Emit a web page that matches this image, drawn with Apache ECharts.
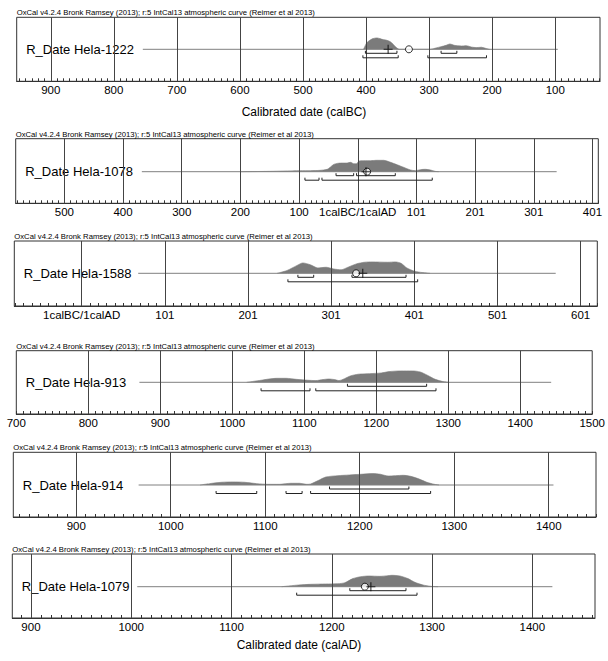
<!DOCTYPE html>
<html><head><meta charset="utf-8">
<script src="https://cdn.jsdelivr.net/npm/echarts@6/dist/echarts.min.js"></script>
<style>html,body{margin:0;padding:0;background:#fff}#c{width:608px;height:661px}</style>
</head><body><div id="c"></div>
<script>
const HEADER = 'OxCal v4.2.4 Bronk Ramsey (2013); r:5 IntCal13 atmospheric curve (Reimer et al 2013)';

// ---- Panel 1: Hela-1222 (cal BC axis) ----
const p1Name = 'R_Date Hela-1222';
const p1Ticks = [900, 800, 700, 600, 500, 400, 300, 200, 100];
const p1Line = [754, 96];
const p1Years = [404, 399, 394, 389, 383, 378, 373, 367, 362, 357, 352, 347, 298, 289, 281, 273, 267, 260, 249, 241, 233, 225, 217, 209, 204];
const p1Prob  = [0, 0.56, 0.79, 0.94, 1.0, 0.94, 0.85, 0.79, 0.68, 0.44, 0.15, 0, 0, 0.12, 0.23, 0.35, 0.47, 0.35, 0.29, 0.32, 0.2, 0.15, 0.18, 0.06, 0];
const p1R68 = [[401, 351], [281, 256]];
const p1R95 = [[405, 349], [302, 209]];
const p1Mean = [332];
const p1Median = [365];

// ---- Panel 2: Hela-1078 (BC negative, AD positive) ----
const p2Name = 'R_Date Hela-1078';
const p2Ticks = [-500, -400, -300, -200, -100, 0, 100, 200, 300, 400];
const p2Line = [-368, 339];
const p2Years = [-200, -150, -126, -98, -81, -64, -52, -47, -41, -35, -27, -18, -12, -7, -2, 2, 10, 22, 33, 44, 56, 67, 78, 90, 98, 107, 115, 124, 132, 138];
const p2Prob  = [0, 0.03, 0.06, 0.09, 0.09, 0.12, 0.21, 0.39, 0.64, 0.73, 0.76, 0.76, 0.82, 0.70, 0.70, 0.94, 0.97, 0.97, 1.0, 1.0, 0.82, 0.61, 0.39, 0.15, 0.09, 0.18, 0.21, 0.15, 0.03, 0];
const p2R68 = [[-37, -7], [-2, 64]];
const p2R95 = [[-90, -66], [-61, 127]];
const p2Mean = [16];
const p2Median = [14];

// ---- Panel 3: Hela-1588 ----
const p3Name = 'R_Date Hela-1588';
const p3Ticks = [0, 100, 200, 300, 400, 500, 600];
const p3Line = [68, 570];
const p3Years = [235, 247, 259, 266, 275, 284, 294, 303, 312, 321, 331, 340, 349, 368, 377, 384, 391, 400, 410, 419];
const p3Prob  = [0, 0.25, 0.69, 0.91, 0.75, 0.47, 0.53, 0.38, 0.31, 0.56, 0.84, 0.97, 1.0, 0.97, 1.0, 0.88, 0.47, 0.19, 0.06, 0];
const p3R68 = [[260, 279], [325, 390]];
const p3R95 = [[248, 404]];
const p3Mean = [330];
const p3Median = [338];

// ---- Panel 4: Hela-913 ----
const p4Name = 'R_Date Hela-913';
const p4Ticks = [700, 800, 900, 1000, 1100, 1200, 1300, 1400, 1500];
const p4Line = [871, 1443];
const p4Years = [1020, 1040, 1051, 1062, 1075, 1089, 1105, 1116, 1126, 1134, 1142, 1148, 1156, 1164, 1175, 1191, 1207, 1218, 1234, 1250, 1261, 1271, 1282, 1293, 1301];
const p4Prob  = [0, 0.18, 0.29, 0.35, 0.35, 0.26, 0.18, 0.15, 0.24, 0.29, 0.24, 0.15, 0.32, 0.56, 0.71, 0.76, 0.82, 0.94, 1.0, 1.0, 0.91, 0.62, 0.26, 0.06, 0];
const p4R68 = [[1160, 1270]];
const p4R95 = [[1040, 1108], [1116, 1283]];
const p4Mean = [];
const p4Median = [];

// ---- Panel 5: Hela-914 ----
const p5Name = 'R_Date Hela-914';
const p5Ticks = [900, 1000, 1100, 1200, 1300, 1400];
const p5Line = [966, 1405];
const p5Years = [1031, 1041, 1054, 1066, 1078, 1091, 1103, 1115, 1127, 1136, 1144, 1148, 1156, 1164, 1177, 1189, 1201, 1214, 1222, 1230, 1238, 1246, 1254, 1263, 1271, 1279, 1284];
const p5Prob  = [0, 0.12, 0.24, 0.27, 0.24, 0.12, 0.06, 0.06, 0.15, 0.15, 0.06, 0.09, 0.39, 0.70, 0.82, 0.88, 0.94, 1.0, 0.94, 0.79, 0.82, 0.85, 0.76, 0.52, 0.24, 0.06, 0];
const p5R68 = [[1168, 1252]];
const p5R95 = [[1048, 1091], [1122, 1139], [1148, 1275]];
const p5Mean = [];
const p5Median = [];

// ---- Panel 6: Hela-1079 ----
const p6Name = 'R_Date Hela-1079';
const p6Ticks = [900, 1000, 1100, 1200, 1300, 1400];
const p6Line = [1006, 1420];
const p6Years = [1150, 1167, 1179, 1194, 1206, 1213, 1221, 1229, 1237, 1248, 1256, 1260, 1268, 1276, 1283, 1291, 1299, 1306];
const p6Prob  = [0, 0.15, 0.21, 0.24, 0.26, 0.35, 0.71, 0.88, 0.94, 0.91, 0.97, 1.0, 0.94, 0.71, 0.38, 0.15, 0.03, 0];
const p6R68 = [[1218, 1274]];
const p6R95 = [[1165, 1285]];
const p6Mean = [1233];
const p6Median = [1239];

const axisTitleTop = 'Calibrated date (calBC)';
const axisTitleBottom = 'Calibrated date (calAD)';

// ---------- layout (positions / styles) ----------
const FONT = 'Liberation Sans, Arial, sans-serif';
const PEAK = 11.4;      // px per unit probability
const fmtPlain = v => String(v);
const fmtBCAD = v => v < 0 ? String(-v) : (v === 0 ? '1calBC/1calAD' : String(v + 1));

const panels = [
  {name:p1Name, ticks:p1Ticks, line:p1Line, years:p1Years, prob:p1Prob, r68:p1R68, r95:p1R95, mean:p1Mean, median:p1Median, fmt:fmtPlain,
   l:16.7, r:600, t:17.3, b:81.3, lineY:49.3, min:29, max:954, inverse:true},
  {name:p2Name, ticks:p2Ticks, line:p2Line, years:p2Years, prob:p2Prob, r68:p2R68, r95:p2R95, mean:p2Mean, median:p2Median, fmt:fmtBCAD,
   l:15.7, r:598.3, t:138.7, b:203.3, lineY:171.7, min:-583, max:410, inverse:false},
  {name:p3Name, ticks:p3Ticks, line:p3Line, years:p3Years, prob:p3Prob, r68:p3R68, r95:p3R95, mean:p3Mean, median:p3Median, fmt:fmtBCAD,
   l:14.3, r:597.3, t:241, b:306, lineY:273.3, min:-81, max:620, inverse:false},
  {name:p4Name, ticks:p4Ticks, line:p4Line, years:p4Years, prob:p4Prob, r68:p4R68, r95:p4R95, mean:p4Mean, median:p4Median, fmt:fmtPlain,
   l:16.3, r:598, t:350.7, b:414, lineY:382.3, min:700, max:1500, inverse:false},
  {name:p5Name, ticks:p5Ticks, line:p5Line, years:p5Years, prob:p5Prob, r68:p5R68, r95:p5R95, mean:p5Mean, median:p5Median, fmt:fmtPlain,
   l:13.3, r:596, t:452.3, b:517, lineY:485, min:833.4, max:1450, inverse:false},
  {name:p6Name, ticks:p6Ticks, line:p6Line, years:p6Years, prob:p6Prob, r68:p6R68, r95:p6R95, mean:p6Mean, median:p6Median, fmt:fmtPlain,
   l:12.3, r:595, t:554, b:618, lineY:586.7, min:881.4, max:1462.5, inverse:false}
];

const grids = [], xAxes = [], yAxes = [], series = [], graphics = [];
const OFF68 = 4 / PEAK, OFF95 = 8.5 / PEAK;

panels.forEach((P, i) => {
  grids.push({left:P.l, top:P.t, width:P.r - P.l, height:P.b - P.t, show:true,
    borderColor:'#333', borderWidth:1, backgroundColor:'transparent'});
  const minor = [];
  for (let v = Math.ceil(P.min / 10) * 10; v <= P.max; v += 10) minor.push(v);
  xAxes.push({gridIndex:i, type:'value', min:P.min, max:P.max, inverse:P.inverse,
    axisLine:{show:true, onZero:false, lineStyle:{color:'#333', width:1}},
    axisTick:{show:true, inside:true, length:3, customValues:minor, lineStyle:{color:'#333', width:1}},
    axisLabel:{show:true, customValues:P.ticks, formatter:P.fmt, fontSize:11.5, fontFamily:FONT, color:'#000', margin:3,
      showMinLabel:true, showMaxLabel:true, hideOverlap:false},
    splitLine:{show:false}});
  yAxes.push({gridIndex:i, type:'value', show:false,
    min:-(P.b - P.lineY) / PEAK, max:(P.lineY - P.t) / PEAK});

  // density
  series.push({type:'line', xAxisIndex:i, yAxisIndex:i, z:3, silent:true,
    data:P.years.map((y, k) => [y, P.prob[k]]), smooth:0.25, symbol:'none',
    lineStyle:{width:0.6, color:'#7b7b7b'}, areaStyle:{color:'#7b7b7b', opacity:1, origin:0}});
  // baseline + grid lines
  series.push({type:'line', xAxisIndex:i, yAxisIndex:i, z:4, silent:true,
    data:[[P.line[0], 0], [P.line[1], 0]], symbol:'none',
    lineStyle:{width:1, color:'#808080'},
    markLine:{silent:true, symbol:['none','none'], label:{show:false},
      lineStyle:{type:'solid', color:'#444', width:1},
      data:P.ticks.filter(v => v > P.min + 1 && v < P.max - 1).map(v => ({xAxis:v}))}});
  // brackets
  const br = P.r68.map(a => [a[0], a[1], -OFF68]).concat(P.r95.map(a => [a[0], a[1], -OFF95]));
  series.push({type:'custom', xAxisIndex:i, yAxisIndex:i, z:5, silent:true, data:br,
    renderItem:(params, api) => {
      const a = api.coord([api.value(0), api.value(2)]);
      const b = api.coord([api.value(1), api.value(2)]);
      const h = 2.5;
      return {type:'polyline', shape:{points:[[a[0], a[1]-h],[a[0], a[1]],[b[0], b[1]],[b[0], b[1]-h]]},
        style:{stroke:'#222', fill:null, lineWidth:1}};
    }});
  if (P.mean.length) {
    series.push({type:'scatter', xAxisIndex:i, yAxisIndex:i, z:6, silent:true,
      data:P.mean.map(v => [v, 0]), symbol:'circle', symbolSize:7,
      itemStyle:{color:'#fff', borderColor:'#000', borderWidth:1}});
    series.push({type:'scatter', xAxisIndex:i, yAxisIndex:i, z:7, silent:true,
      data:P.median.map(v => [v, 0]), symbol:'path://M4.4,0H5.6V4.4H10V5.6H5.6V10H4.4V5.6H0V4.4H4.4Z', symbolSize:9,
      itemStyle:{color:'#000'}});
  }
  graphics.push({type:'text', x:P.l, y:P.t - 0.5, silent:true,
    style:{text:HEADER, fontSize:7.7, fontFamily:FONT, fill:'#000', align:'left', verticalAlign:'bottom'}});
  graphics.push({type:'text', x:P.l + 9.5, y:P.lineY, silent:true,
    style:{text:P.name, fontSize:13, fontFamily:FONT, fill:'#000', align:'left', verticalAlign:'middle'}});
});

graphics.push({type:'text', x:304, y:112, silent:true,
  style:{text:axisTitleTop, fontSize:12, fontFamily:FONT, fill:'#000', align:'center', verticalAlign:'middle'}});
graphics.push({type:'text', x:299, y:645, silent:true,
  style:{text:axisTitleBottom, fontSize:12, fontFamily:FONT, fill:'#000', align:'center', verticalAlign:'middle'}});

const chart = echarts.init(document.getElementById('c'), null, {renderer:'svg'});
chart.setOption({animation:false, backgroundColor:'#fff',
  grid:grids, xAxis:xAxes, yAxis:yAxes, series:series, graphic:graphics});
</script></body></html>
